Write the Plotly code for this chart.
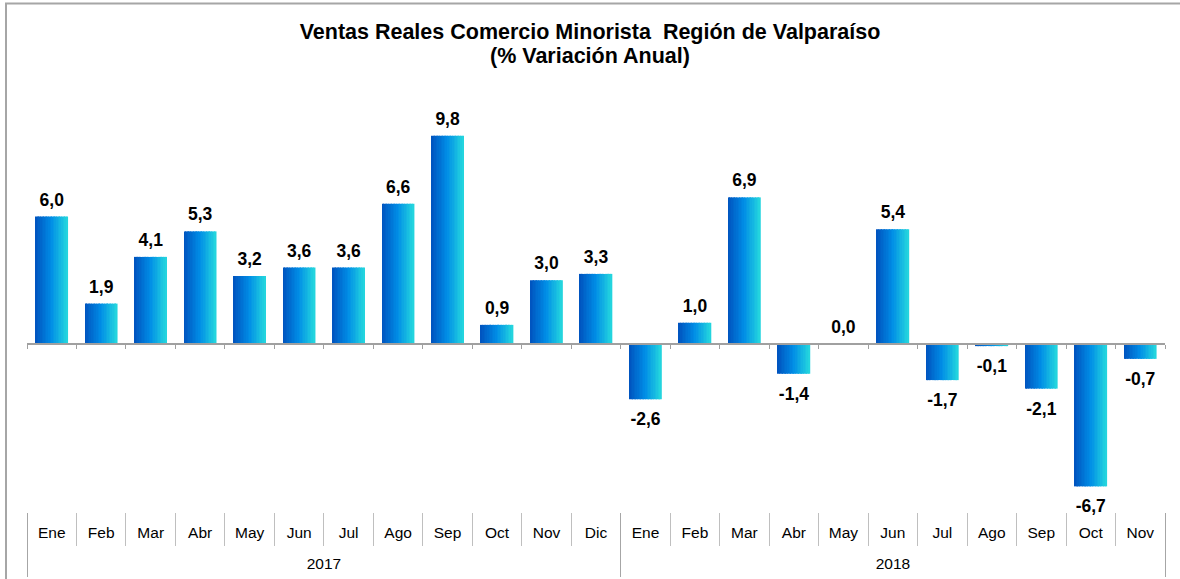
import plotly.graph_objects as go

years = ["2017", "2018"]
year_counts = [12, 11]
months = ["Ene", "Feb", "Mar", "Abr", "May", "Jun", "Jul", "Ago", "Sep", "Oct", "Nov", "Dic",
          "Ene", "Feb", "Mar", "Abr", "May", "Jun", "Jul", "Ago", "Sep", "Oct", "Nov"]
values = [6.0, 1.9, 4.1, 5.3, 3.2, 3.6, 3.6, 6.6, 9.8, 0.9, 3.0, 3.3,
          -2.6, 1.0, 6.9, -1.4, 0.0, 5.4, -1.7, -0.1, -2.1, -6.7, -0.7]
labels = [f"{v:.1f}".replace(".", ",") for v in values]
title_line1 = "Ventas Reales Comercio Minorista  Región de Valparaíso"
title_line2 = "(% Variación Anual)"

n = len(values)
xs = list(range(n))
FONT = "Liberation Sans, Arial, sans-serif"

# layout geometry
W, H = 1180, 579
ml, mr, mt, mb = 27, 15, 100, 67
zero_px = 344
ppu = 21.25
ymax = (zero_px - mt) / ppu
ymin = -((H - mb) - zero_px) / ppu
ph = H - mt - mb
pw = W - ml - mr

stops = [(0.0, (0, 82, 190)), (0.5, (0, 141, 230)), (1.0, (37, 216, 222))]


def grad(t):
    for (t0, c0), (t1, c1) in zip(stops[:-1], stops[1:]):
        if t <= t1:
            f = (t - t0) / (t1 - t0)
            return "rgb(%d,%d,%d)" % tuple(round(a + (b - a) * f) for a, b in zip(c0, c1))
    return "rgb(%d,%d,%d)" % stops[-1][1]


fig = go.Figure()
bw = 0.65
ns = 20
sw = bw / ns
for i in range(ns):
    fig.add_trace(go.Bar(
        x=xs, y=values, width=sw * 1.15, offset=-bw / 2 + i * sw,
        marker=dict(color=grad((i + 0.5) / ns), line=dict(width=0)),
        hoverinfo="skip", showlegend=False,
    ))

# value labels (positive above, negative below)
for sign, tpos, msize in [(1, "top center", 9), (-1, "bottom center", 19)]:
    idx = [i for i, v in enumerate(values) if (v >= 0) == (sign > 0)]
    fig.add_trace(go.Scatter(
        x=[xs[i] for i in idx], y=[values[i] for i in idx],
        mode="markers+text", text=[labels[i] for i in idx], textposition=tpos,
        marker=dict(size=msize, opacity=0), cliponaxis=False,
        textfont=dict(family=FONT, size=17.5, color="black"),
        texttemplate="<b>%{text}</b>", hoverinfo="skip", showlegend=False,
    ))

bounds = [i - 0.5 for i in range(n + 1)]
year_bounds = [-0.5]
year_centers = []
for c in year_counts:
    year_centers.append(year_bounds[-1] + c / 2)
    year_bounds.append(year_bounds[-1] + c)

rng = [-0.5, n - 0.5]
fig.update_layout(
    width=W, height=H, barmode="overlay",
    margin=dict(l=ml, r=mr, t=mt, b=mb, autoexpand=False),
    paper_bgcolor="white", plot_bgcolor="white",
    font=dict(family=FONT, size=15.5, color="black"),
    title=dict(text="<b>" + title_line1 + "</b>", x=0.5, xanchor="center",
               y=1 - 31 / H, yanchor="middle",
               font=dict(size=21.5, family=FONT, color="black")),
    # month labels
    xaxis=dict(range=rng, tickmode="array", tickvals=xs, ticktext=months,
               ticks="outside", ticklen=6, tickcolor="rgba(0,0,0,0)",
               showline=False, showgrid=False, zeroline=False,
               tickfont=dict(size=15.5, family=FONT)),
    # month separators
    xaxis2=dict(overlaying="x", anchor="y", side="bottom", range=rng,
                tickmode="array", tickvals=bounds, showticklabels=False,
                ticks="outside", ticklen=33, tickcolor="#bfbfbf", tickwidth=1,
                showline=False, showgrid=False, zeroline=False),
    # zero line with small ticks
    xaxis3=dict(overlaying="x", anchor="free", position=(0 - ymin) / (ymax - ymin),
                range=rng, tickmode="array", tickvals=bounds,
                showticklabels=False, ticks="outside", ticklen=4, tickcolor="#a0a0a0",
                tickwidth=1, showline=True, linecolor="#a0a0a0", linewidth=2,
                showgrid=False, zeroline=False),
    # year labels
    xaxis4=dict(overlaying="x", anchor="y", side="bottom", range=rng,
                tickmode="array", tickvals=year_centers, ticktext=years,
                ticks="outside", ticklen=37, tickcolor="rgba(0,0,0,0)",
                showline=False, showgrid=False, zeroline=False,
                tickfont=dict(size=15.5, family=FONT)),
    # year separators
    xaxis5=dict(overlaying="x", anchor="y", side="bottom", range=rng,
                tickmode="array", tickvals=year_bounds, showticklabels=False,
                ticks="outside", ticklen=64, tickcolor="#a6a6a6", tickwidth=1,
                showline=False, showgrid=False, zeroline=False),
    yaxis=dict(range=[ymin, ymax], visible=False, showgrid=False, zeroline=False),
)
fig.add_annotation(text="<b>" + title_line2 + "</b>", xref="paper", yref="paper",
                   x=(W / 2 - ml) / pw, y=(H - mb - 56) / ph, xanchor="center",
                   yanchor="middle", showarrow=False,
                   font=dict(size=21.5, family=FONT, color="black"))
for ax in ["x2", "x3", "x4", "x5"]:
    fig.add_trace(go.Scatter(x=[0], y=[0], xaxis=ax, mode="markers",
                             marker=dict(opacity=0), hoverinfo="skip", showlegend=False))

# outer frame
fig.add_shape(type="rect", xref="paper", yref="paper",
              x0=(6 - ml) / pw, x1=(W + 10 - ml) / pw,
              y0=-(mb + 30) / ph, y1=1 + (mt - 3.5) / ph,
              line=dict(color="#a6a6a6", width=2), fillcolor="rgba(0,0,0,0)", layer="below")

fig.write_html("out.html", config={"displayModeBar": False},
               post_script="document.body.style.margin='0';")
